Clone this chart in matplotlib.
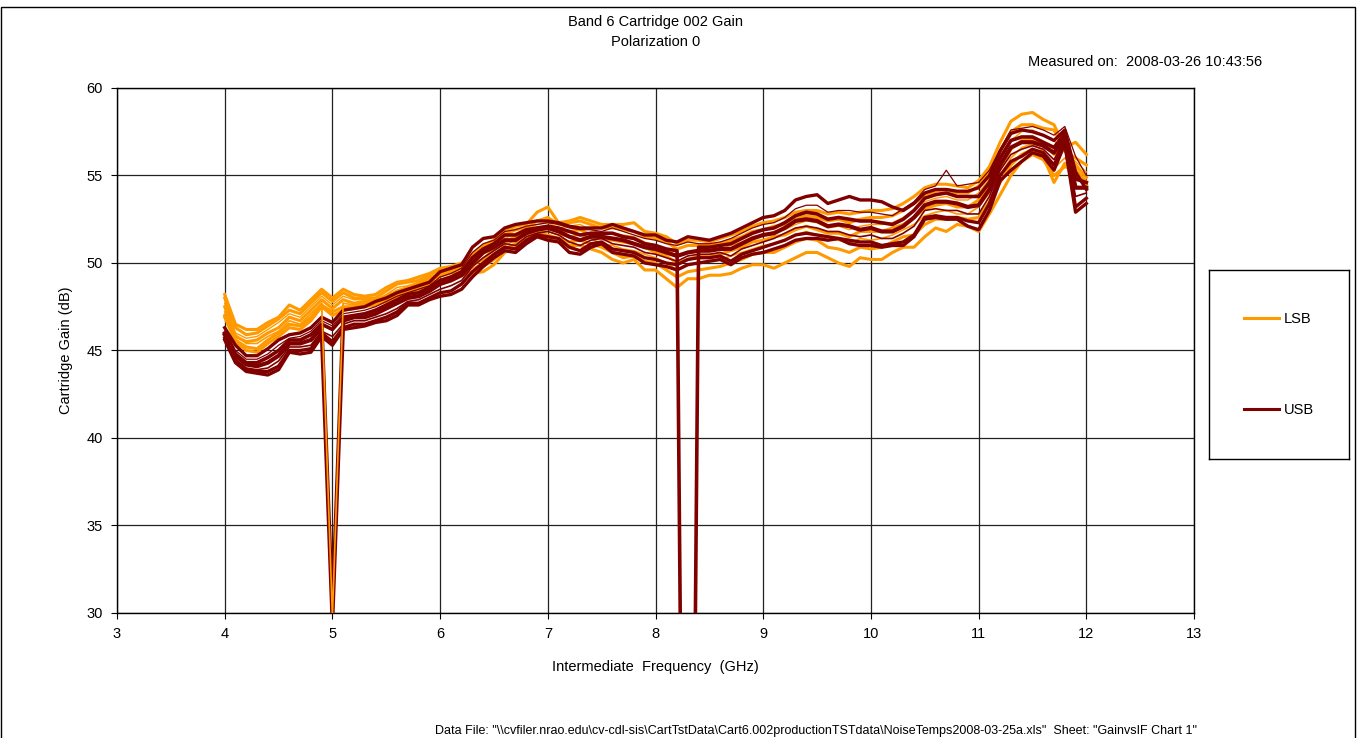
import matplotlib
matplotlib.use("Agg")
import matplotlib.pyplot as plt
from matplotlib.patches import Rectangle

plt.rcParams["font.family"] = ["Liberation Sans", "DejaVu Sans"]

# IF frequency grid (GHz)
freq_ghz = [
    4.0, 4.1, 4.2, 4.3, 4.4, 4.5, 4.6, 4.7, 4.8, 4.9,
    5.0, 5.1, 5.2, 5.3, 5.4, 5.5, 5.6, 5.7, 5.8, 5.9,
    6.0, 6.1, 6.2, 6.3, 6.4, 6.5, 6.6, 6.7, 6.8, 6.9,
    7.0, 7.1, 7.2, 7.3, 7.4, 7.5, 7.6, 7.7, 7.8, 7.9,
    8.0, 8.1, 8.2, 8.3, 8.4, 8.5, 8.6, 8.7, 8.8, 8.9,
    9.0, 9.1, 9.2, 9.3, 9.4, 9.5, 9.6, 9.7, 9.8, 9.9,
    10.0, 10.1, 10.2, 10.3, 10.4, 10.5, 10.6, 10.7, 10.8, 10.9,
    11.0, 11.1, 11.2, 11.3, 11.4, 11.5, 11.6, 11.7, 11.8, 11.9,
    12.0,
]

# LSB gain sweeps (dB), one list per LO setting
lsb_1 = [
    48.2, 46.5, 46.2, 46.2, 46.6, 46.9, 47.6, 47.3, 47.9, 48.5,
    48.0, 48.5, 48.2, 48.1, 48.2, 48.6, 48.9, 49.0, 49.2, 49.4,
    49.7, 49.8, 50.0, 50.5, 51.0, 51.3, 51.8, 52.1, 52.2, 52.9,
    53.2, 52.3, 52.4, 52.6, 52.4, 52.2, 52.2, 52.2, 52.3, 51.8,
    51.7, 51.5, 51.1, 51.3, 51.3, 51.2, 51.4, 51.6, 51.8, 52.1,
    52.3, 52.4, 52.6, 52.9, 53.0, 53.0, 52.8, 52.9, 52.8, 52.9,
    53.0, 53.0, 53.1, 53.4, 53.8, 54.3, 54.5, 54.5, 54.4, 54.3,
    54.7, 55.5, 56.9, 58.1, 58.5, 58.6, 58.2, 57.9, 56.6, 56.9,
    56.2,
]
lsb_2 = [
    48.0, 46.3, 45.9, 46.0, 46.4, 46.8, 47.3, 47.1, 47.7, 48.3,
    47.8, 48.3, 48.0, 48.0, 48.0, 48.4, 48.8, 48.9, 49.0, 49.3,
    49.6, 49.7, 49.9, 50.3, 50.8, 51.2, 51.6, 51.9, 52.0, 52.4,
    52.6, 52.2, 52.3, 52.4, 52.2, 52.0, 52.0, 51.9, 51.8, 51.5,
    51.4, 51.2, 50.8, 51.0, 51.0, 51.0, 51.1, 51.3, 51.5, 51.8,
    51.9, 52.1, 52.2, 52.5, 52.7, 52.6, 52.4, 52.5, 52.3, 52.5,
    52.6, 52.6, 52.7, 53.0, 53.4, 53.9, 54.1, 54.2, 54.0, 54.0,
    54.4, 55.2, 56.4, 57.5, 57.9, 57.9, 57.7, 57.6, 56.4, 56.0,
    55.6,
]
lsb_3 = [
    47.7, 46.0, 45.7, 45.8, 46.2, 46.6, 47.1, 46.9, 47.5, 48.1,
    47.6, 48.1, 47.9, 47.9, 47.9, 48.2, 48.6, 48.7, 48.9, 49.2,
    49.4, 49.6, 49.8, 50.1, 50.5, 51.0, 51.4, 51.7, 51.9, 52.2,
    52.3, 52.0, 52.1, 52.2, 51.9, 51.7, 51.7, 51.6, 51.5, 51.2,
    51.0, 50.8, 50.4, 50.6, 50.7, 50.7, 50.8, 51.0, 51.2, 51.5,
    51.6, 51.8, 51.9, 52.2, 52.4, 52.3, 52.0, 52.1, 51.9, 52.1,
    52.2, 52.2, 52.3, 52.6, 53.0, 53.5, 53.7, 53.8, 53.6, 53.6,
    54.0, 54.8, 55.9, 57.0, 57.5, 57.6, 57.3, 57.0, 56.3, 55.8,
    55.2,
]
lsb_4 = [
    47.5, 45.8, 45.5, 45.6, 46.0, 46.3, 46.9, 46.7, 47.3, 47.9,
    47.4, 47.9, 47.7, 47.8, 47.8, 48.1, 48.4, 48.6, 48.8, 49.1,
    49.3, 49.5, 49.7, 49.9, 50.2, 50.8, 51.2, 51.5, 51.7, 52.0,
    52.0, 51.8, 51.8, 51.9, 51.6, 51.4, 51.3, 51.2, 51.1, 50.9,
    50.6, 50.4, 50.0, 50.2, 50.4, 50.4, 50.5, 50.7, 50.9, 51.2,
    51.3, 51.5, 51.6, 51.9, 52.1, 51.9, 51.7, 51.7, 51.5, 51.8,
    51.8, 51.8, 52.0, 52.2, 52.6, 53.1, 53.3, 53.4, 53.2, 53.2,
    53.6, 54.4, 55.4, 56.5, 57.0, 57.1, 56.8, 56.2, 56.6, 55.6,
    54.9,
]
lsb_5 = [
    47.2, 45.9, 45.4, 45.4, 45.8, 46.1, 46.7, 46.5, 47.1, 47.7,
    29.8, 47.7, 47.6, 47.7, 47.7, 48.0, 48.3, 48.5, 48.7, 49.0,
    49.2, 49.4, 49.5, 49.7, 50.0, 50.5, 51.0, 51.3, 51.6, 51.8,
    51.8, 51.6, 51.5, 51.6, 51.4, 51.1, 51.0, 50.8, 50.7, 50.5,
    50.3, 50.0, 49.6, 49.9, 50.0, 50.1, 50.2, 50.4, 50.6, 50.8,
    51.0, 51.1, 51.3, 51.6, 51.8, 51.6, 51.3, 51.3, 51.1, 51.4,
    51.3, 51.4, 51.6, 51.9, 52.2, 52.7, 52.9, 53.0, 52.8, 52.8,
    53.2, 54.0, 55.0, 56.0, 56.6, 56.8, 56.4, 55.4, 56.0, 55.4,
    54.7,
]
lsb_6 = [
    47.0, 45.6, 45.2, 45.1, 45.6, 46.0, 46.5, 46.4, 46.9, 47.6,
    47.2, 47.5, 47.5, 47.6, 47.6, 47.9, 48.2, 48.4, 48.6, 48.9,
    49.0, 49.2, 49.4, 49.5, 49.8, 50.2, 50.8, 51.1, 51.4, 51.7,
    51.6, 51.4, 51.2, 51.3, 51.1, 50.9, 50.6, 50.3, 50.4, 50.1,
    50.0, 49.6, 49.2, 49.5, 49.6, 49.7, 49.8, 50.0, 50.2, 50.5,
    50.6, 50.6, 50.9, 51.2, 51.4, 51.3, 50.9, 50.8, 50.6, 50.9,
    50.8, 50.9, 51.2, 51.5, 51.6, 52.2, 52.5, 52.5, 52.6, 52.5,
    52.6, 53.5, 54.6, 55.6, 56.2, 56.5, 56.1, 54.6, 55.7, 55.2,
    54.6,
]
lsb_7 = [
    46.9, 45.5, 45.0, 44.9, 45.4, 45.8, 46.3, 46.2, 46.7, 47.5,
    47.0, 47.3, 47.4, 47.5, 47.6, 47.8, 48.1, 48.3, 48.5, 48.8,
    48.9, 49.1, 49.3, 49.4, 49.5, 49.9, 50.6, 50.9, 51.2, 51.5,
    51.4, 51.2, 51.0, 51.0, 50.8, 50.6, 50.2, 50.0, 50.2, 49.6,
    49.6, 49.1, 48.6, 49.1, 49.1, 49.3, 49.3, 49.4, 49.7, 49.9,
    49.9, 49.7, 50.0, 50.3, 50.6, 50.6, 50.3, 50.0, 49.8, 50.3,
    50.2, 50.2, 50.6, 50.9, 50.9, 51.5, 52.0, 51.8, 52.2, 52.1,
    51.8, 52.8, 53.9, 55.0, 55.8, 56.2, 55.9, 55.0, 55.5, 55.3,
    54.5,
]

# USB gain sweeps (dB)
usb_1 = [
    46.3, 45.3, 44.7, 44.7, 45.1, 45.6, 45.9, 46.0, 46.3, 46.9,
    46.6, 47.3, 47.4, 47.5, 47.8, 48.0, 48.3, 48.5, 48.7, 48.9,
    49.5, 49.7, 49.9, 50.9, 51.4, 51.5, 52.0, 52.2, 52.3, 52.4,
    52.4, 52.3, 52.1, 52.0, 52.0, 52.0, 52.2, 52.0, 51.8, 51.6,
    51.6, 51.3, 51.2, 51.5, 51.4, 51.3, 51.5, 51.7, 52.0, 52.3,
    52.6, 52.7, 53.0, 53.6, 53.8, 53.9, 53.4, 53.6, 53.8, 53.6,
    53.6, 53.5, 53.2, 53.0, 53.4, 54.0, 54.2, 54.2, 54.1, 54.1,
    54.3, 55.0, 56.4, 57.4, 57.6, 57.5, 57.3, 57.0, 57.6, 55.2,
    54.2,
]
usb_2 = [
    46.2, 45.0, 44.5, 44.5, 44.8, 45.3, 45.7, 45.8, 46.1, 46.7,
    46.4, 47.1, 47.2, 47.3, 47.5, 47.8, 48.1, 48.3, 48.5, 48.7,
    49.2, 49.4, 49.7, 50.6, 51.1, 51.3, 51.8, 51.9, 52.1, 52.2,
    52.3, 52.2, 52.0, 51.9, 51.9, 51.8, 52.0, 51.8, 51.6, 51.4,
    51.3, 51.1, 51.0, 51.2, 51.1, 51.1, 51.2, 51.4, 51.7, 52.0,
    52.2, 52.3, 52.6, 53.1, 53.3, 53.3, 52.9, 53.0, 53.0, 52.9,
    52.9, 52.8, 52.7, 53.1, 53.5, 54.2, 54.4, 55.3, 54.4, 54.5,
    54.6, 55.3, 56.5, 57.6, 57.7, 57.8, 57.6, 57.3, 57.8, 56.1,
    55.0,
]
usb_3 = [
    46.0, 44.8, 44.3, 44.3, 44.6, 45.0, 45.6, 45.6, 45.9, 46.5,
    46.2, 46.9, 47.0, 47.1, 47.3, 47.6, 47.9, 48.2, 48.3, 48.6,
    49.0, 49.2, 49.5, 50.3, 50.8, 51.1, 51.6, 51.6, 51.9, 52.0,
    52.1, 52.0, 51.8, 51.6, 51.7, 51.7, 51.7, 51.5, 51.4, 51.1,
    51.0, 50.8, 50.7, -20.0, 50.9, 50.9, 51.0, 51.1, 51.4, 51.7,
    51.9, 52.0, 52.3, 52.7, 52.9, 52.8, 52.5, 52.6, 52.5, 52.4,
    52.4, 52.3, 52.2, 52.5, 53.0, 53.7, 53.9, 54.0, 53.8, 53.8,
    53.8, 54.6, 56.0, 57.0, 57.2, 57.2, 56.9, 56.6, 57.4, 54.8,
    54.6,
]
usb_4 = [
    45.9, 44.7, 44.2, 44.1, 44.3, 44.7, 45.4, 45.4, 45.6, 46.3,
    29.8, 46.7, 46.9, 46.9, 47.1, 47.4, 47.7, 48.0, 48.1, 48.4,
    48.8, 49.0, 49.3, 50.0, 50.6, 50.9, 51.3, 51.3, 51.7, 51.9,
    52.0, 51.8, 51.5, 51.3, 51.5, 51.5, 51.4, 51.3, 51.1, 50.9,
    50.8, 50.6, 50.4, 50.6, 50.7, 50.7, 50.8, 50.8, 51.1, 51.4,
    51.6, 51.7, 52.0, 52.4, 52.5, 52.4, 52.1, 52.2, 52.1, 51.9,
    52.0, 51.8, 51.8, 52.1, 52.6, 53.3, 53.5, 53.5, 53.4, 53.2,
    53.3, 54.2, 55.6, 56.6, 56.9, 56.9, 56.7, 56.3, 57.2, 54.3,
    54.3,
]
usb_5 = [
    45.8, 44.5, 44.0, 43.9, 44.0, 44.4, 45.2, 45.2, 45.3, 46.1,
    45.8, 46.5, 46.7, 46.7, 46.9, 47.1, 47.4, 47.8, 47.9, 48.2,
    48.5, 48.7, 49.0, 49.8, 50.3, 50.7, 51.1, 51.0, 51.5, 51.7,
    51.8, 51.6, 51.2, 51.0, 51.3, 51.4, 51.1, 51.0, 50.9, 50.6,
    50.5, 50.3, 50.1, 50.4, 50.5, 50.5, 50.6, 50.4, 50.8, 51.0,
    51.2, 51.4, 51.7, 52.0, 52.1, 52.0, 51.8, 51.8, 51.6, 51.5,
    51.6, 51.4, 51.4, 51.7, 52.1, 53.0, 53.1, 53.0, 53.0, 52.8,
    52.8, 53.8, 55.3, 56.2, 56.5, 56.7, 56.5, 55.9, 57.1, 53.8,
    54.0,
]
usb_6 = [
    45.7, 44.4, 43.9, 43.8, 43.8, 44.1, 45.0, 45.0, 45.1, 46.0,
    45.5, 46.3, 46.5, 46.5, 46.7, 46.9, 47.2, 47.7, 47.7, 48.0,
    48.3, 48.4, 48.8, 49.5, 50.0, 50.5, 50.9, 50.8, 51.3, 51.6,
    51.5, 51.4, 50.9, 50.7, 51.1, 51.2, 50.8, 50.7, 50.6, 50.3,
    50.2, 50.0, 49.9, 50.2, 50.3, 50.3, 50.4, 50.1, 50.5, 50.7,
    50.9, 51.1, 51.3, 51.6, 51.7, 51.6, 51.5, 51.4, 51.3, 51.2,
    51.2, 51.0, 51.1, 51.2, 51.6, 52.6, 52.7, 52.6, 52.6, 52.4,
    52.3, 53.4, 55.0, 55.8, 56.1, 56.5, 56.3, 55.6, 56.9, 53.2,
    53.7,
]
usb_7 = [
    45.6, 44.3, 43.8, 43.7, 43.6, 43.9, 44.9, 44.8, 44.9, 45.8,
    45.3, 46.2, 46.3, 46.4, 46.6, 46.7, 47.0, 47.6, 47.6, 47.9,
    48.1, 48.2, 48.5, 49.2, 49.8, 50.3, 50.7, 50.6, 51.1, 51.5,
    51.3, 51.2, 50.6, 50.5, 50.9, 51.1, 50.6, 50.5, 50.4, 50.0,
    49.9, 49.8, 49.6, 49.9, 50.0, 50.1, 50.2, 49.9, 50.3, 50.5,
    50.6, 50.8, 51.0, 51.3, 51.4, 51.4, 51.3, 51.4, 51.1, 51.0,
    51.0, 50.9, 51.0, 51.0, 51.5, 52.5, 52.6, 52.5, 52.5, 52.1,
    51.9, 53.0, 54.7, 55.3, 55.8, 56.3, 56.1, 55.3, 56.8, 52.9,
    53.4,
]

lsb_sweeps = [lsb_1, lsb_2, lsb_3, lsb_4, lsb_6, lsb_7, lsb_5]
usb_sweeps = [usb_1, usb_2, usb_3, usb_4, usb_5, usb_6, usb_7]
lsb_widths = [2.2, 2.2, 1.0, 2.2, 2.2, 2.2, 1.2]
usb_widths = [2.4, 0.9, 2.6, 3.0, 1.2, 2.4, 2.4]

LSB_COLOR = "#FF9900"
USB_COLOR = "#800000"

fig = plt.figure(figsize=(13.59, 7.38), dpi=100)
ax = fig.add_axes([0.0861, 0.1694, 0.7925, 0.7114])

# LSB sweeps underneath, USB sweeps on top
for i, sweep in enumerate(lsb_sweeps):
    ax.plot(freq_ghz, sweep, color=LSB_COLOR, lw=lsb_widths[i],
            label="LSB" if i == 0 else None, zorder=3)
for i, sweep in enumerate(usb_sweeps):
    ax.plot(freq_ghz, sweep, color=USB_COLOR, lw=usb_widths[i],
            label="USB" if i == 0 else None, zorder=4)
# the one LSB sweep with the 5 GHz drop-out sits over the USB one
ax.plot(freq_ghz[9:12], lsb_5[9:12], color=LSB_COLOR, lw=1.2, zorder=5)

ax.set_xlim(3, 13)
ax.set_ylim(30, 60)
ax.set_xticks(range(3, 14))
ax.set_yticks(range(30, 61, 5))
ax.grid(True, color="#222222", lw=0.9)
ax.set_axisbelow(True)
for s in ax.spines.values():
    s.set_color("black")
    s.set_linewidth(1.0)
ax.tick_params(direction="out", length=4, width=0.8, labelsize=10.5, pad=6)
ax.set_xlabel("Intermediate  Frequency  (GHz)", fontsize=10.5, labelpad=14)
ax.set_ylabel("Cartridge Gain (dB)", fontsize=10.5, labelpad=10)

fig.text(0.4823, 1 - 22 / 738, "Band 6 Cartridge 002 Gain", ha="center", va="center", fontsize=10.5)
fig.text(0.4823, 1 - 42 / 738, "Polarization 0", ha="center", va="center", fontsize=10.5)
fig.text(1028 / 1359, 1 - 62 / 738, "Measured on:  2008-03-26 10:43:56", ha="left", va="center", fontsize=10.5)
fig.text(1197 / 1359, 1 - 731 / 738,
         r'Data File: "\\cvfiler.nrao.edu\cv-cdl-sis\CartTstData\Cart6.002productionTSTdata\NoiseTemps2008-03-25a.xls"  Sheet: "GainvsIF Chart 1"',
         ha="right", va="center", fontsize=9,
         family=["Liberation Sans Narrow", "Liberation Sans", "DejaVu Sans"])

# legend box to the right of the plot
lax = fig.add_axes([1209 / 1359, 1 - 459 / 738, 140 / 1359, 189 / 738])
lax.set_xticks([])
lax.set_yticks([])
for s in lax.spines.values():
    s.set_color("black")
    s.set_linewidth(1.0)
handles, labels = ax.get_legend_handles_labels()
leg = lax.legend(handles, labels, loc="center", frameon=False, fontsize=10.5,
                 labelspacing=5.3, handlelength=2.4, handletextpad=0.3)
for h in leg.legend_handles:
    h.set_linewidth(2.2)

# outer chart border
fig.add_artist(Rectangle((1 / 1359, -0.01), 1354 / 1359, 1.0, transform=fig.transFigure,
                         fill=False, edgecolor="black", lw=1.0))

fig.savefig("out.png", dpi=100)
